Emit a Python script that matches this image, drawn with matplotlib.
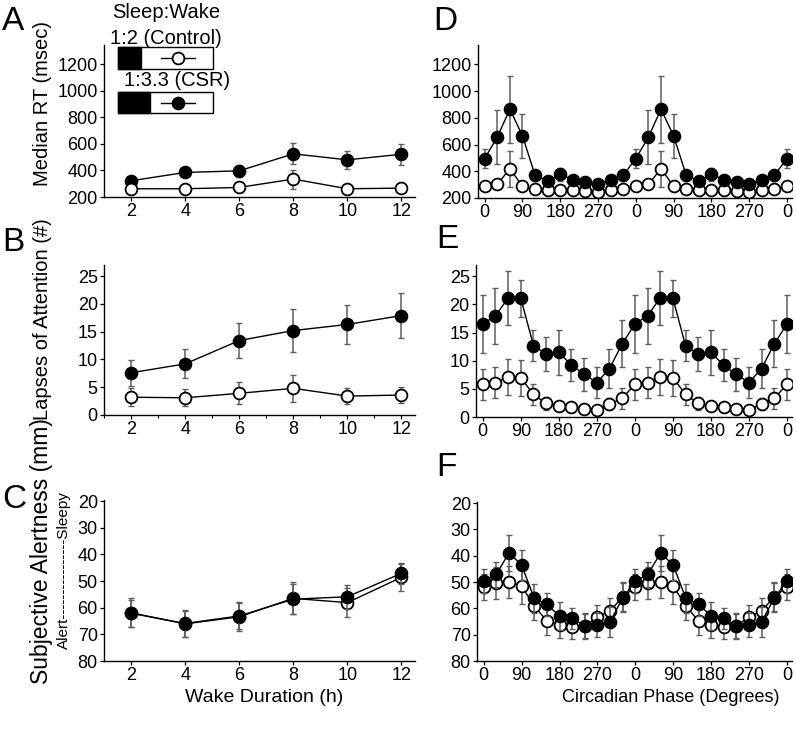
import numpy as np
import matplotlib.pyplot as plt
from matplotlib.patches import Rectangle
from matplotlib.lines import Line2D

plt.rcParams['font.family'] = ['Liberation Sans', 'DejaVu Sans']

W, H = 796, 731

# ---- data ----
wake_h = [2, 4, 6, 8, 10, 12]

rt_ctrl = [262, 262, 272, 335, 262, 267]
rt_ctrl_err = [25, 25, 25, 72, 25, 25]
rt_csr = [322, 385, 397, 525, 480, 522]
rt_csr_err = [20, 25, 45, 80, 68, 80]

lapse_ctrl = [3.2, 3.1, 3.9, 4.8, 3.4, 3.6]
lapse_ctrl_err = [1.6, 1.5, 2.0, 2.4, 1.4, 1.5]
lapse_csr = [7.6, 9.2, 13.4, 15.2, 16.3, 17.9]
lapse_csr_err = [2.3, 2.6, 3.2, 3.8, 3.5, 4.0]

kss_ctrl = [61.9, 66.1, 63.4, 56.5, 58.1, 48.6]
kss_ctrl_err = [5.5, 5.0, 5.5, 6.0, 5.5, 5.0]
kss_csr = [62.1, 65.9, 63.1, 56.8, 55.9, 47.1]
kss_csr_err = [5.0, 5.0, 5.0, 5.5, 4.5, 4.0]

phase = [0, 30, 60, 90, 120, 150, 180, 210, 240, 270, 300, 330]

rt_ph_ctrl = [287, 302, 420, 287, 265, 257, 257, 257, 252, 245, 257, 270]
rt_ph_ctrl_err = [30, 30, 135, 30, 30, 30, 30, 30, 30, 30, 30, 30]
rt_ph_csr = [495, 657, 865, 665, 370, 327, 377, 337, 320, 302, 332, 370]
rt_ph_csr_err = [70, 200, 250, 165, 40, 35, 50, 35, 30, 30, 35, 40]

lapse_ph_ctrl = [5.8, 6.1, 7.1, 7.0, 4.0, 2.4, 2.0, 1.8, 1.4, 1.3, 2.3, 3.3]
lapse_ph_ctrl_err = [2.8, 2.8, 3.2, 3.2, 1.8, 1.1, 0.6, 0.6, 0.5, 0.5, 1.0, 1.8]
lapse_ph_csr = [16.5, 18.0, 21.1, 21.1, 12.7, 11.2, 11.5, 9.2, 7.6, 6.1, 8.6, 13.0]
lapse_ph_csr_err = [5.1, 5.0, 4.8, 3.3, 2.8, 3.0, 4.0, 2.8, 2.9, 2.8, 3.4, 4.2]

kss_ph_ctrl = [52.0, 50.3, 50.0, 51.6, 59.1, 64.8, 66.3, 67.0, 66.8, 63.2, 61.0, 55.6]
kss_ph_ctrl_err = [5.0, 6.0, 6.0, 6.8, 5.3, 5.3, 5.1, 4.8, 4.8, 4.4, 4.8, 5.5]
kss_ph_csr = [49.7, 47.1, 38.9, 43.6, 56.2, 58.5, 62.9, 63.8, 66.6, 66.3, 65.1, 56.0]
kss_ph_csr_err = [4.5, 4.8, 6.8, 5.7, 5.6, 4.5, 5.4, 4.0, 4.8, 4.5, 5.6, 5.5]

phase_ticks = [0, 90, 180, 270, 360, 450, 540, 630, 720]
phase_labels = ['0', '90', '180', '270', '0', '90', '180', '270', '0']


def double_plot(vals):
    # circadian data is double plotted (two cycles + closing point)
    v = list(vals)
    return v + v + v[:1]


phase2 = double_plot(phase)
phase2 = [p + 360 * (i // 12) for i, p in enumerate(phase2)]

ERR_C = '#5e5e5e'
MS = 8.5


def fig_rect(x0, y0, x1, y1):
    # pixel box (top-left origin) -> figure fraction [l, b, w, h]
    return [x0 / W, 1 - y1 / H, (x1 - x0) / W, (y1 - y0) / H]


def series(ax, x, y, e, filled, z):
    ax.errorbar(x, y, yerr=e, fmt='none', ecolor=ERR_C, elinewidth=1.1,
                capsize=2.2, capthick=1.0, zorder=z)
    ax.plot(x, y, '-', color='black', lw=1.0, zorder=z + 1)
    ax.plot(x, y, 'o', ms=MS, mec='black', mew=1.3,
            mfc='black' if filled else 'white', zorder=z + 2)


def style(ax):
    for s in ('top', 'right'):
        ax.spines[s].set_visible(False)
    for s in ('left', 'bottom'):
        ax.spines[s].set_linewidth(1.0)
    ax.tick_params(direction='out', length=3, width=0.9, labelsize=13, pad=1.5)


fig = plt.figure(figsize=(W / 100, H / 100), dpi=100)

axA = fig.add_axes(fig_rect(104, 45, 415, 197))
axB = fig.add_axes(fig_rect(104, 265, 415, 415))
axC = fig.add_axes(fig_rect(104, 500, 415, 661))
axD = fig.add_axes(fig_rect(478, 45, 792, 198))
axE = fig.add_axes(fig_rect(476, 265, 792, 417))
axF = fig.add_axes(fig_rect(477, 502, 792, 661))

series(axA, wake_h, rt_csr, rt_csr_err, True, 2)
series(axA, wake_h, rt_ctrl, rt_ctrl_err, False, 5)
series(axB, wake_h, lapse_ctrl, lapse_ctrl_err, False, 2)
series(axB, wake_h, lapse_csr, lapse_csr_err, True, 5)
series(axC, wake_h, kss_ctrl, kss_ctrl_err, False, 2)
series(axC, wake_h, kss_csr, kss_csr_err, True, 5)

series(axD, phase2, double_plot(rt_ph_ctrl), double_plot(rt_ph_ctrl_err), False, 2)
series(axD, phase2, double_plot(rt_ph_csr), double_plot(rt_ph_csr_err), True, 5)
series(axE, phase2, double_plot(lapse_ph_ctrl), double_plot(lapse_ph_ctrl_err), False, 2)
series(axE, phase2, double_plot(lapse_ph_csr), double_plot(lapse_ph_csr_err), True, 5)
series(axF, phase2, double_plot(kss_ph_ctrl), double_plot(kss_ph_ctrl_err), False, 2)
series(axF, phase2, double_plot(kss_ph_csr), double_plot(kss_ph_csr_err), True, 5)

for ax in (axA, axB, axC):
    style(ax)
    ax.set_xlim(1, 12.5)
    ax.set_xticks(wake_h)
for ax in (axD, axE, axF):
    style(ax)
    ax.set_xlim(-16, 732)
    ax.set_xticks(phase_ticks)
    ax.set_xticklabels(phase_labels)

axB.set_xticks([1, 3, 5, 7, 9, 11], minor=True)
axB.tick_params(axis='x', which='minor', direction='out', length=2.5, width=0.8)

for ax in (axA, axD):
    ax.set_ylim(200, 1345)
    ax.set_yticks([200, 400, 600, 800, 1000, 1200])
for ax in (axB, axE):
    ax.set_ylim(0, 27)
    ax.set_yticks([0, 5, 10, 15, 20, 25])
for ax in (axC, axF):
    ax.set_ylim(80, 19.6)
    ax.set_yticks([20, 30, 40, 50, 60, 70, 80])


def ftext(x, y, s, **kw):
    fig.text(x / W, 1 - y / H, s, **kw)


# panel letters
for lab, x, y in [('A', 2, 22), ('B', 2, 242), ('C', 2, 500),
                  ('D', 433, 22), ('E', 436, 240), ('F', 436, 467)]:
    ftext(x, y, lab, fontsize=24, ha='left', va='center')

# axis labels
ftext(43, 104, 'Median RT (msec)', fontsize=14.5, rotation=90, ha='center', va='center')
ftext(43, 319, 'Lapses of Attention (#)', fontsize=14.5, rotation=90, ha='center', va='center')
ftext(42, 551, 'Subjective Alertness (mm)', fontsize=16.5, rotation=90, ha='center', va='center')
ftext(64, 570, 'Alert' + '-' * 16 + 'Sleepy', fontsize=11, rotation=90, ha='center', va='center')
ftext(264, 697, 'Wake Duration (h)', fontsize=14, ha='center', va='center')
ftext(671, 697, 'Circadian Phase (Degrees)', fontsize=13, ha='center', va='center')

# legend
ftext(166, 12, 'Sleep:Wake', fontsize=14.5, ha='center', va='center')
ftext(166, 38, '1:2 (Control)', fontsize=14.5, ha='center', va='center')
ftext(177, 80, '1:3.3 (CSR)', fontsize=14.5, ha='center', va='center')

for (y0, y1, xb, filled) in [(47, 69, 141, False), (92, 113, 150, True)]:
    l, b, w, h = fig_rect(118, y0, 213, y1)
    fig.add_artist(Rectangle((l, b), w, h, transform=fig.transFigure,
                             facecolor='white', edgecolor='black', lw=1.0, zorder=10))
    l2, b2, w2, h2 = fig_rect(118, y0, xb, y1)
    fig.add_artist(Rectangle((l2, b2), w2, h2, transform=fig.transFigure,
                             facecolor='black', edgecolor='black', lw=1.0, zorder=11))
    ym = 1 - (y0 + y1) / 2 / H
    fig.add_artist(Line2D([161 / W, 195 / W], [ym, ym], transform=fig.transFigure,
                          color='black', lw=1.0, zorder=12))
    fig.add_artist(Line2D([178 / W], [ym], transform=fig.transFigure, marker='o', ms=MS,
                          mec='black', mew=1.3, mfc='black' if filled else 'white',
                          zorder=13))

fig.savefig('out.png', dpi=100)
